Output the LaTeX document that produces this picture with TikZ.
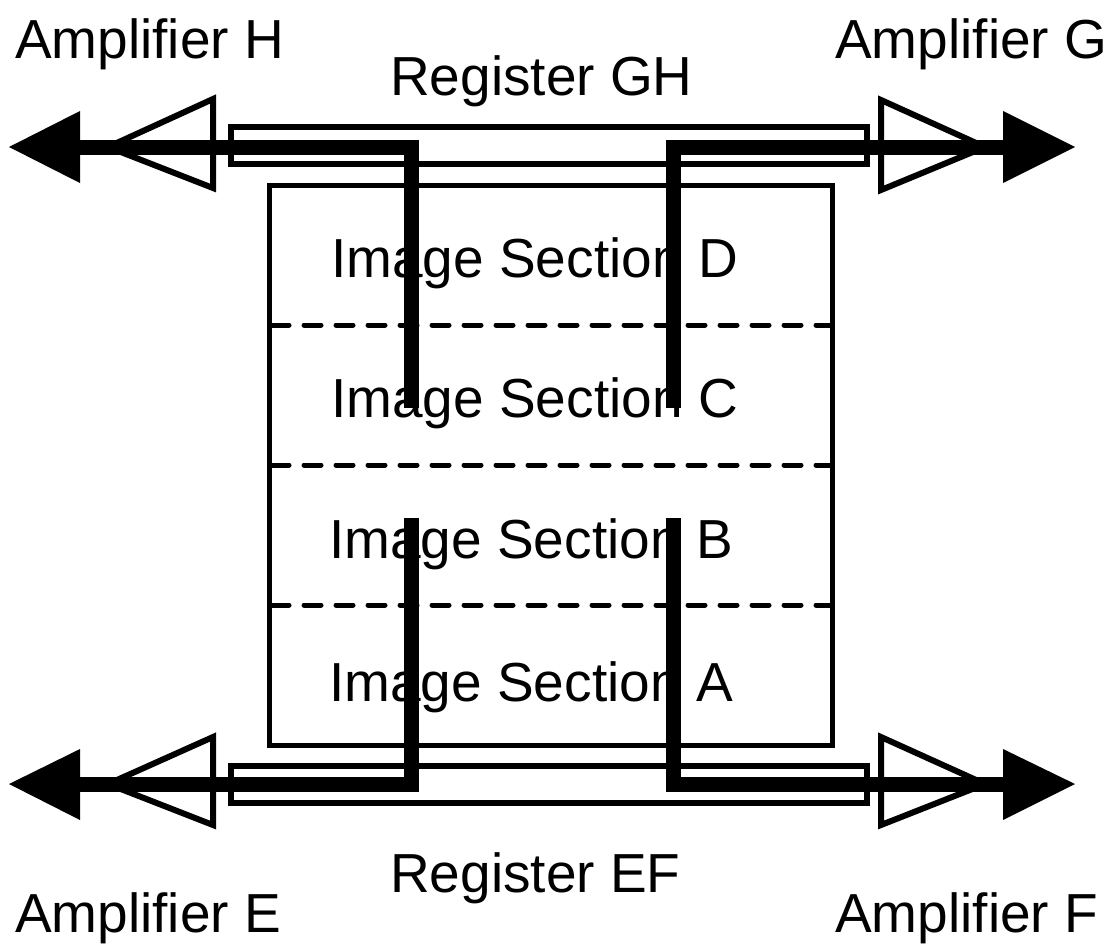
\documentclass[tikz,border=0pt]{standalone}
\usepackage{fontspec}
\setmainfont{Liberation Sans}
\begin{document}
\begin{tikzpicture}[x=1pt,y=-1pt,
  lbl/.style={anchor=base west,inner sep=0pt,font=\fontsize{55}{66}\selectfont},
  boxline/.style={line width=5pt},
  regbox/.style={line width=6pt},
  amptri/.style={line width=6pt,line join=miter},
  sectline/.style={line width=5pt,line cap=round,dash pattern=on 17pt off 15pt},
  bus/.style={line width=15pt,line join=miter},
  tipfill/.style={fill=black}]
\useasboundingbox (0,0) rectangle (1118,943);
% image area
\draw[boxline] (269,185) rectangle (832,745);
\foreach \yy in {325,465,605} \draw[sectline] (272,\yy) -- (832,\yy);
% registers
\draw[regbox] (231,127) rectangle (867,164);
\draw[regbox] (231,766) rectangle (867,803);
% amplifiers
\draw[amptri] (213,99) -- (213,188) -- (108,147) -- cycle;
\draw[amptri] (881,100) -- (881,190) -- (985,147) -- cycle;
\draw[amptri] (213,737) -- (213,825) -- (108,784) -- cycle;
\draw[amptri] (881,737) -- (881,825) -- (985,784) -- cycle;
% labels
\node[lbl] (ampH) at (15,58) {Amplifier H};
\node[lbl] (ampG) at (835,58) {Amplifier G};
\node[lbl] (regGH) at (390,95) {Register GH};
\node[lbl] (secD) at (331,277) {Image Section D};
\node[lbl] (secC) at (331,417) {Image Section C};
\node[lbl] (secB) at (329,558) {Image Section B};
\node[lbl] (secA) at (329,701) {Image Section A};
\node[lbl] (regEF) at (390,892) {Register EF};
\node[lbl] (ampE) at (15,932) {Amplifier E};
\node[lbl] (ampF) at (835,932) {Amplifier F};
% bus coordinates
\coordinate (hOut) at (80,147);
\coordinate (hCorner) at (411,147);
\coordinate (dEnd) at (411,408);
\coordinate (gOut) at (1003,147);
\coordinate (gCorner) at (673,147);
\coordinate (cEnd) at (673,408);
\coordinate (eOut) at (80,784);
\coordinate (eCorner) at (411,784);
\coordinate (bEnd) at (411,518);
\coordinate (fOut) at (1003,784);
\coordinate (fCorner) at (673,784);
\coordinate (aEnd) at (673,518);
\draw[bus] (dEnd) -- (hCorner) -- (hOut);
\draw[bus] (cEnd) -- (gCorner) -- (gOut);
\draw[bus] (bEnd) -- (eCorner) -- (eOut);
\draw[bus] (aEnd) -- (fCorner) -- (fOut);
% arrow heads
\fill[tipfill] (80,111) -- (80,183) -- (9,147) -- cycle;
\fill[tipfill] (1003,111) -- (1003,183) -- (1075,147) -- cycle;
\fill[tipfill] (80,749) -- (80,820) -- (9,784) -- cycle;
\fill[tipfill] (1003,749) -- (1003,820) -- (1075,784) -- cycle;
\end{tikzpicture}
\end{document}
